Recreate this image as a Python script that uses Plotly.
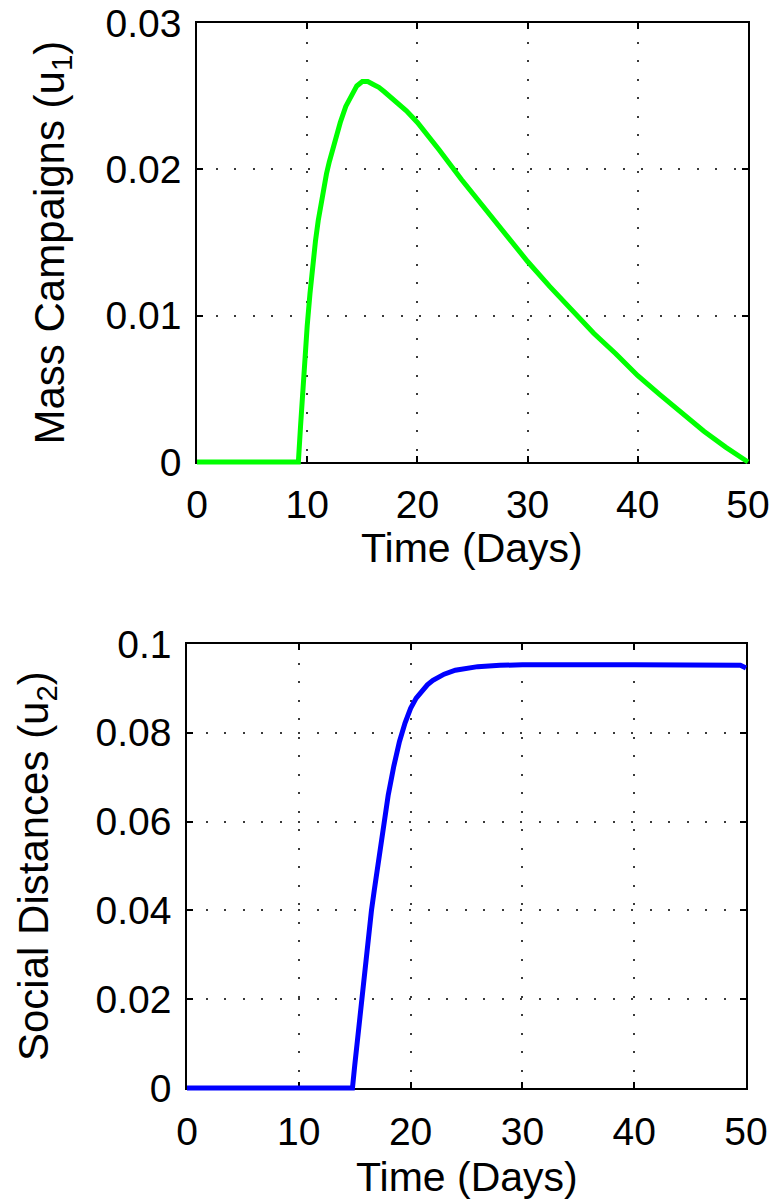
import plotly.graph_objects as go

# Control u1: mass campaigns over the 50-day horizon
t_u1 = [0, 9.2, 9.4, 9.6, 9.8, 10, 10.25, 10.5, 10.75, 11, 11.25, 11.5, 11.75, 12,
        12.5, 13, 13.5, 14, 14.5, 15, 15.5, 16, 16.5, 17, 18, 19, 20, 21, 22, 24, 26,
        28, 30, 32, 34, 36, 38, 40, 42, 44, 46, 48, 50]
u1 = [0, 0, 0.0025, 0.0050, 0.0072, 0.0093, 0.0115, 0.0135, 0.0151, 0.0165, 0.0177,
      0.0188, 0.0197, 0.0205, 0.0220, 0.0232, 0.0243, 0.0251, 0.0257, 0.0260, 0.0260,
      0.0258, 0.0256, 0.0253, 0.0247, 0.0240, 0.0232, 0.0223, 0.0213, 0.0193, 0.0174,
      0.0155, 0.0137, 0.0120, 0.0104, 0.0088, 0.0074, 0.0059, 0.0046, 0.0033, 0.0021,
      0.0010, 0]

# Control u2: social distancing over the 50-day horizon
t_u2 = [0, 14.8, 15.0, 15.2, 15.4, 15.6, 15.8, 16, 16.25, 16.5, 16.75, 17, 17.3, 17.6,
        18, 18.5, 19, 19.5, 20, 20.5, 21, 21.5, 22, 23, 24, 25, 26, 28, 30, 40, 49.5, 50]
u2 = [0, 0, 0.005, 0.010, 0.015, 0.020, 0.0245, 0.029, 0.0345, 0.040, 0.0445, 0.049,
      0.0545, 0.060, 0.066, 0.0725, 0.0780, 0.0822, 0.0855, 0.0878, 0.0895, 0.0908,
      0.0918, 0.0932, 0.0941, 0.0946, 0.0949, 0.0952, 0.0953, 0.0953, 0.0952, 0.0946]

x_ticks = [0, 10, 20, 30, 40, 50]
u1_ticks = [0, 0.01, 0.02, 0.03]
u1_labels = ["0", "0.01", "0.02", "0.03"]
u2_ticks = [0, 0.02, 0.04, 0.06, 0.08, 0.1]
u2_labels = ["0", "0.02", "0.04", "0.06", "0.08", "0.1"]

W, H = 775, 1202
FONT = "Liberation Sans, Arial, Helvetica, sans-serif"

# plot boxes in pixels: (left, right, top, bottom)
BOX1 = (197, 748, 23, 462)
BOX2 = (187, 746, 644, 1088)
X_RANGE = (0, 50)
Y1_RANGE = (0, 0.03)
Y2_RANGE = (0, 0.1)
PAD = 5  # extra room so thick curves are not cut at the frame


def x_dom(l, r):
    return [l / W, r / W]


def y_dom(t, b):
    return [1 - b / H, 1 - t / H]


def padded(lo_px, hi_px, rng, pad):
    per_px = (rng[1] - rng[0]) / (hi_px - lo_px)
    return [rng[0] - pad * per_px, rng[1] + pad * per_px]


fig = go.Figure()
# transparent copies keep the framed subplots (box, ticks, grid) in the figure
fig.add_trace(go.Scatter(x=t_u1, y=u1, mode="lines", xaxis="x", yaxis="y", opacity=0,
                         hoverinfo="skip", showlegend=False))
fig.add_trace(go.Scatter(x=t_u2, y=u2, mode="lines", xaxis="x2", yaxis="y2", opacity=0,
                         hoverinfo="skip", showlegend=False))
# visible curves on the widened data axes
fig.add_trace(go.Scatter(x=t_u1, y=u1, mode="lines", xaxis="x3", yaxis="y3",
                         line=dict(color="#00ff00", width=5), showlegend=False))
fig.add_trace(go.Scatter(x=t_u2, y=u2, mode="lines", xaxis="x4", yaxis="y4",
                         line=dict(color="#0000ff", width=5), showlegend=False))

common = dict(
    showline=True, linecolor="black", linewidth=1.5, mirror="ticks",
    ticks="inside", ticklen=6, tickwidth=1.5, tickcolor="black",
    showgrid=True, gridcolor="#3a3a3a", gridwidth=1.5, griddash="2px,16.5px",
    zeroline=False, fixedrange=True,
    tickfont=dict(family=FONT, size=39, color="black"),
)
hidden = dict(visible=False, showgrid=False, zeroline=False, fixedrange=True)

l1, r1, t1, b1 = BOX1
l2, r2, t2, b2 = BOX2

fig.update_layout(
    width=W, height=H, margin=dict(l=0, r=0, t=0, b=0, autoexpand=False),
    autosize=False,
    paper_bgcolor="white", plot_bgcolor="rgba(0,0,0,0)",
    xaxis=dict(domain=x_dom(l1, r1), range=list(X_RANGE), tickvals=x_ticks,
               anchor="y", ticklabelstandoff=7, **common),
    yaxis=dict(domain=y_dom(t1, b1), range=list(Y1_RANGE), tickvals=u1_ticks,
               ticktext=u1_labels, anchor="x", ticklabelstandoff=6, **common),
    xaxis2=dict(domain=x_dom(l2, r2), range=list(X_RANGE), tickvals=x_ticks,
                anchor="y2", ticklabelstandoff=8, **common),
    yaxis2=dict(domain=y_dom(t2, b2), range=list(Y2_RANGE), tickvals=u2_ticks,
                ticktext=u2_labels, anchor="x2", ticklabelstandoff=6, **common),
    # data axes: same scales as the framed axes, widened by PAD pixels
    xaxis3=dict(domain=x_dom(l1 - PAD, r1 + PAD), range=padded(l1, r1, X_RANGE, PAD),
                anchor="y3", **hidden),
    yaxis3=dict(domain=y_dom(t1 - PAD, b1 + PAD), range=padded(t1, b1, Y1_RANGE, PAD),
                anchor="x3", **hidden),
    xaxis4=dict(domain=x_dom(l2 - PAD, r2 + PAD), range=padded(l2, r2, X_RANGE, PAD),
                anchor="y4", **hidden),
    yaxis4=dict(domain=y_dom(t2 - PAD, b2 + PAD), range=padded(t2, b2, Y2_RANGE, PAD),
                anchor="x4", **hidden),
)

title_font = dict(family=FONT, size=41, color="black")
ytitle_font = dict(family=FONT, size=42, color="black")
annotations = [
    dict(text="Time (Days)", x=(l1 + r1) / 2 / W, y=1 - 548 / H, xref="paper", yref="paper",
         xanchor="center", yanchor="middle", showarrow=False, font=title_font),
    dict(text="Time (Days)", x=(l2 + r2) / 2 / W, y=1 - 1177 / H, xref="paper", yref="paper",
         xanchor="center", yanchor="middle", showarrow=False, font=title_font),
    dict(text="Mass Campaigns (u<sub>1</sub>)", x=52 / W, y=1 - (t1 + b1) / 2 / H,
         xref="paper", yref="paper", xanchor="center", yanchor="middle",
         textangle=-90, showarrow=False, font=ytitle_font),
    dict(text="Social Distances (u<sub>2</sub>)", x=36 / W, y=1 - (t2 + b2) / 2 / H,
         xref="paper", yref="paper", xanchor="center", yanchor="middle",
         textangle=-90, showarrow=False, font=ytitle_font),
]
fig.update_layout(annotations=annotations)

fig.write_html("out.html", config={"responsive": False, "displayModeBar": False})
